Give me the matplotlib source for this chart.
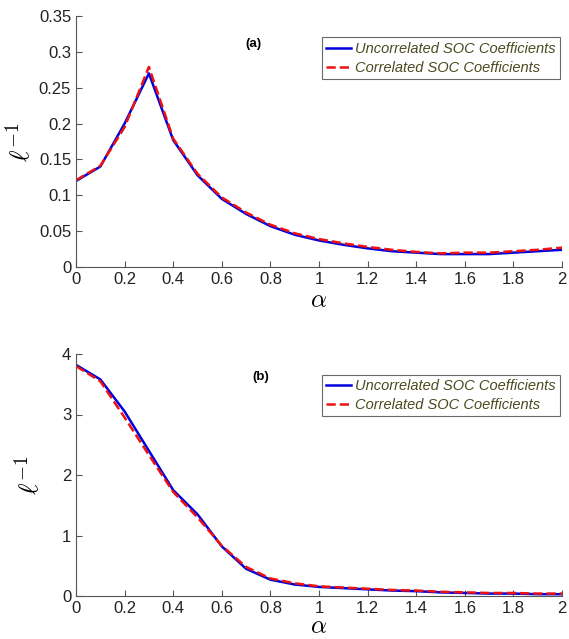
import matplotlib.pyplot as plt
import numpy as np

plt.rcParams['font.family'] = ['Liberation Sans', 'DejaVu Sans']
plt.rcParams['mathtext.fontset'] = 'cm'

alpha = [0.0, 0.1, 0.2, 0.3, 0.4, 0.5, 0.6, 0.7, 0.8, 0.9, 1.0,
         1.1, 1.2, 1.3, 1.4, 1.5, 1.6, 1.7, 1.8, 1.9, 2.0]

# panel (a)
a_uncorr = [0.120, 0.140, 0.200, 0.270, 0.177, 0.128, 0.095, 0.074, 0.057, 0.045, 0.037,
            0.031, 0.026, 0.022, 0.020, 0.018, 0.018, 0.018, 0.020, 0.022, 0.024]
a_corr = [0.121, 0.141, 0.195, 0.279, 0.179, 0.130, 0.097, 0.076, 0.059, 0.047, 0.039,
          0.033, 0.028, 0.024, 0.021, 0.019, 0.020, 0.020, 0.022, 0.024, 0.027]

# panel (b)
b_uncorr = [3.82, 3.58, 3.05, 2.40, 1.75, 1.35, 0.82, 0.45, 0.27, 0.19, 0.15,
            0.13, 0.11, 0.09, 0.08, 0.06, 0.05, 0.04, 0.04, 0.03, 0.03]
b_corr = [3.80, 3.55, 2.95, 2.33, 1.72, 1.30, 0.83, 0.48, 0.29, 0.21, 0.16,
          0.14, 0.12, 0.10, 0.09, 0.07, 0.06, 0.05, 0.05, 0.04, 0.04]

labels = ['Uncorrelated SOC Coefficients', 'Correlated SOC Coefficients']

W, H = 569, 639
fig = plt.figure(figsize=(W / 100, H / 100), dpi=100)

def setup(ax, ylim, yticks, tag, tag_xy, ylpad, xlpad):
    ax.set_xlim(0, 2)
    ax.set_ylim(*ylim)
    ax.set_xticks(np.arange(0, 2.01, 0.2))
    ax.set_xticklabels(['0', '0.2', '0.4', '0.6', '0.8', '1', '1.2', '1.4', '1.6', '1.8', '2'])
    ax.set_yticks(yticks)
    ax.spines['top'].set_visible(False)
    ax.spines['right'].set_visible(False)
    for s in ['left', 'bottom']:
        ax.spines[s].set_color('#555555')
        ax.spines[s].set_linewidth(0.8)
    ax.tick_params(direction='in', length=4, labelsize=12, color='#555555', labelcolor='#222222')
    ax.set_xlabel(r'$\alpha$', fontsize=18, labelpad=xlpad)
    ax.set_ylabel(r'$\ell^{-1}$', fontsize=20, labelpad=ylpad)
    ax.text(tag_xy[0], tag_xy[1], tag, transform=ax.transAxes, fontsize=9.5,
            fontweight='bold', ha='center', va='center')
    leg = ax.legend(loc='upper right', bbox_to_anchor=(0.995, 0.915), fontsize=10.5,
                    frameon=True, fancybox=False, handlelength=1.7, handletextpad=0.25,
                    borderpad=0.3, labelspacing=0.35, borderaxespad=0)
    leg.get_frame().set_edgecolor('#444444')
    leg.get_frame().set_linewidth(0.8)
    for t in leg.get_texts():
        t.set_fontstyle('italic')
        t.set_color('#4a4a20')

# top panel
ax1 = fig.add_axes([76 / W, 1 - 267 / H, (562 - 76) / W, (267 - 16) / H])
ax1.plot(alpha, a_uncorr, '-', color='#0000dd', lw=1.8, label=labels[0])
ax1.plot(alpha, a_corr, '--', color='#ee1111', lw=1.8, label=labels[1])
setup(ax1, (0, 0.35), np.arange(0, 0.351, 0.05), '(a)', (0.365, 0.89), 2, 1)
ax1.set_yticklabels(['0', '0.05', '0.1', '0.15', '0.2', '0.25', '0.3', '0.35'])

# bottom panel (nudged up a little so the alpha label fits)
ax2 = fig.add_axes([76 / W, 1 - 596 / H, (562 - 76) / W, (596 - 354) / H])
ax2.plot(alpha, b_uncorr, '-', color='#0000dd', lw=1.8, label=labels[0])
ax2.plot(alpha, b_corr, '--', color='#ee1111', lw=1.8, label=labels[1])
setup(ax2, (0, 4), [0, 1, 2, 3, 4], '(b)', (0.38, 0.905), 12, -1)

fig.savefig('out.png', dpi=100)
